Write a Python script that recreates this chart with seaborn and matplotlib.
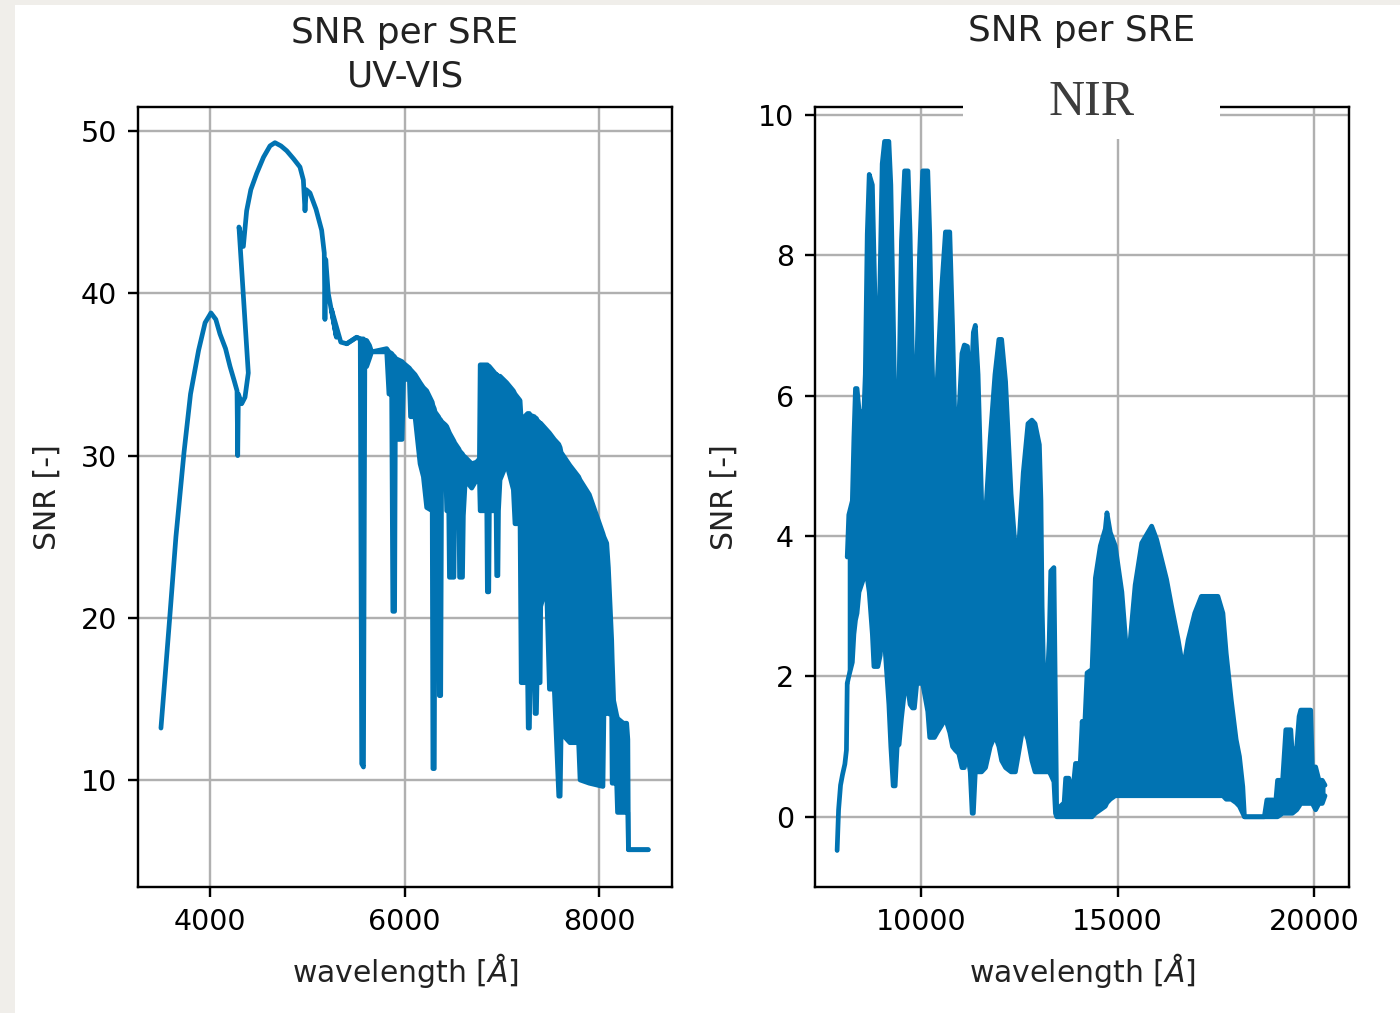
import matplotlib
matplotlib.use("Agg")
import matplotlib.pyplot as plt
from matplotlib.patches import Rectangle
import numpy as np
import pandas as pd
import seaborn as sns

# ---------------- UV-VIS arm ----------------
# single trace from the blue end up to 5406 A (orders overlap near 4300 and 5250 A)
uv_line_wl = [3496, 3540, 3586, 3650, 3733, 3800, 3883, 3950, 4010, 4060, 4103, 4160,
              4206, 4250, 4278, 4285, 4292, 4326, 4360, 4394, 4298, 4343, 4377, 4420,
              4480, 4550, 4617, 4668, 4730, 4789, 4860, 4925, 4960, 4977, 4990, 5028,
              5090, 5148, 5175, 5182, 5190, 5216, 5300, 5250, 5345, 5406]
uv_line_snr = [13.2, 16.5, 20.0, 25.0, 30.2, 33.8, 36.5, 38.2, 38.8, 38.4, 37.5, 36.6,
               35.5, 34.6, 34.0, 30.0, 33.8, 33.2, 33.6, 35.1, 44.1, 42.9, 45.1, 46.4,
               47.4, 48.4, 49.1, 49.3, 49.1, 48.8, 48.3, 47.8, 47.0, 45.1, 46.4, 46.2,
               45.2, 43.9, 42.5, 38.4, 42.1, 40.0, 37.3, 39.0, 37.0, 36.9]

# absorption-line region: upper (continuum) and lower envelope of the trace
uv_band_wl = [5406, 5508, 5545, 5560, 5578, 5592, 5611, 5640, 5662, 5817, 5840, 5868,
              5880, 5898, 5905, 5975, 5990, 6050, 6062, 6108, 6160, 6194, 6228, 6285,
              6292, 6306, 6314, 6350, 6358, 6372, 6382, 6420, 6434, 6455, 6462, 6508,
              6515, 6560, 6566, 6596, 6605, 6625, 6691, 6740, 6770, 6778, 6846, 6852,
              6866, 6872, 6942, 6948, 6960, 6966, 6982, 7050, 7119, 7136, 7188, 7200,
              7266, 7272, 7284, 7290, 7336, 7342, 7356, 7362, 7394, 7400, 7460, 7490,
              7540, 7586, 7600, 7610, 7700, 7790, 7805, 7900, 8040, 8050, 8079, 8096,
              8130, 8135, 8150, 8181, 8190, 8250, 8284, 8296, 8302, 8506]
uv_band_hi = [36.9, 37.3, 37.2, 37.2, 37.2, 37.1, 37.1, 36.8, 36.4, 36.6, 36.4, 36.3,
              36.2, 36.1, 36.0, 35.8, 35.7, 35.4, 35.3, 35.0, 34.5, 34.2, 34.0, 33.3,
              33.1, 32.9, 32.7, 32.4, 32.3, 32.2, 32.1, 31.9, 31.8, 31.5, 31.4, 30.9,
              30.8, 30.4, 30.3, 30.1, 30.0, 29.9, 29.5, 29.6, 29.8, 35.6, 35.6, 35.6,
              35.5, 35.5, 35.0, 35.0, 34.9, 34.9, 34.9, 34.5, 34.0, 33.8, 33.4, 32.2,
              32.6, 32.6, 32.6, 32.5, 32.4, 32.3, 32.3, 32.2, 32.0, 32.0, 31.6, 31.4,
              31.0, 30.7, 30.5, 30.2, 29.4, 28.7, 28.5, 27.6, 25.2, 25.0, 24.6, 23.1,
              18.6, 17.5, 14.9, 14.0, 13.8, 13.5, 13.5, 12.5, 5.7, 5.7]
uv_band_lo = [36.9, 37.3, 37.2, 11.0, 10.8, 36.0, 35.5, 36.0, 36.4, 36.4, 33.8, 33.8,
              20.4, 20.4, 31.0, 31.0, 34.7, 34.7, 32.4, 32.4, 29.5, 28.7, 26.8, 26.6,
              10.7, 10.7, 26.6, 26.6, 15.2, 15.2, 30.1, 30.1, 26.6, 26.6, 22.5, 22.5,
              26.6, 26.6, 22.5, 22.5, 26.3, 28.5, 28.0, 28.5, 28.6, 26.6, 26.6, 21.6,
              21.6, 26.6, 26.6, 22.6, 22.6, 26.6, 28.5, 29.5, 27.9, 25.8, 25.8, 16.0,
              16.0, 13.2, 13.2, 16.0, 16.0, 14.1, 14.1, 16.0, 16.0, 20.7, 22.0, 15.6,
              15.6, 9.0, 9.0, 12.9, 12.3, 12.3, 10.0, 9.8, 9.6, 14.1, 14.1, 14.1,
              14.0, 9.8, 9.8, 9.8, 8.0, 8.0, 8.0, 8.0, 5.7, 5.7]

# ---------------- NIR arm ----------------
nir_line_wl = [7863, 7900, 7950, 8000, 8060, 8100, 8120]
nir_line_snr = [-0.48, 0.1, 0.45, 0.6, 0.75, 0.95, 1.9]

nir_band_wl = [8120, 8160, 8250, 8290, 8330, 8370, 8420, 8540, 8580, 8630, 8680, 8760,
               8800, 8850, 8900, 8960, 9010, 9070, 9180, 9230, 9290, 9340, 9390, 9440,
               9500, 9580, 9670, 9720, 9780, 9830, 9890, 9960, 10040, 10170, 10220, 10280,
               10340, 10410, 10520, 10620, 10730, 10800, 10870, 10960, 11040, 11100, 11180, 11250,
               11300, 11330, 11380, 11450, 11540, 11640, 11760, 11880, 11980, 12050, 12150, 12290,
               12400, 12480, 12600, 12720, 12820, 12900, 13010, 13050, 13080, 13120, 13200, 13260,
               13300, 13380, 13420, 13450, 13640, 13680, 13760, 13850, 13930, 14050, 14100, 14140,
               14224, 14351, 14435, 14562, 14688, 14730, 14815, 14941, 15110, 15236, 15278, 15447,
               15615, 15868, 15995, 16248, 16374, 16543, 16669, 16796, 16964, 17133, 17554, 17681,
               17765, 17892, 18018, 18102, 18187, 18229, 18735, 18800, 18950, 19000, 19072, 19200,
               19282, 19409, 19450, 19560, 19620, 19662, 19915, 19957, 20041, 20126, 20210, 20280]
nir_band_hi = [3.7, 4.3, 4.5, 5.4, 6.1, 6.1, 5.8, 5.7, 6.3, 8.3, 9.15, 9.0,
               8.0, 6.8, 6.2, 7.8, 9.3, 9.62, 9.62, 9.0, 7.2, 5.6, 5.4, 6.2,
               8.2, 9.2, 9.2, 8.3, 6.5, 5.5, 6.4, 8.0, 9.2, 9.2, 8.3, 6.5,
               5.4, 6.2, 7.5, 8.33, 8.33, 7.0, 5.4, 5.7, 6.6, 6.72, 6.7, 6.0,
               6.5, 6.9, 7.0, 6.3, 4.5, 4.3, 5.4, 6.3, 6.8, 6.8, 6.2, 4.6,
               3.8, 3.8, 4.9, 5.6, 5.65, 5.6, 5.3, 4.5, 3.0, 2.0, 1.8, 2.5,
               3.5, 3.55, 1.5, 0.1, 0.2, 0.55, 0.55, 0.3, 0.76, 0.76, 1.36, 1.0,
               2.05, 2.1, 3.4, 3.86, 4.1, 4.33, 4.05, 3.86, 3.2, 2.3, 2.24, 3.3,
               3.9, 4.14, 3.95, 3.38, 3.0, 2.52, 2.1, 2.52, 2.9, 3.14, 3.14, 2.9,
               2.33, 1.67, 1.1, 0.86, 0.43, 0.0, 0.0, 0.24, 0.24, 0.05, 0.52, 0.52,
               1.24, 1.24, 0.86, 1.0, 1.43, 1.52, 1.52, 0.71, 0.71, 0.52, 0.52, 0.45]
nir_band_lo = [1.9, 2.0, 2.2, 2.6, 2.8, 2.9, 3.2, 3.4, 3.4, 3.4, 3.2, 2.6,
               2.14, 2.14, 2.14, 2.3, 2.7, 2.5, 1.6, 1.0, 0.44, 0.44, 1.0, 1.03,
               1.4, 1.8, 1.8, 1.6, 1.55, 1.55, 1.9, 1.9, 1.9, 1.5, 1.13, 1.13,
               1.13, 1.2, 1.3, 1.4, 1.2, 1.0, 0.95, 0.9, 0.7, 0.7, 0.9, 0.64,
               0.05, 0.05, 0.64, 0.64, 0.64, 0.7, 1.0, 1.16, 1.0, 0.8, 0.7, 0.64,
               0.64, 0.9, 1.3, 1.1, 0.8, 0.64, 0.64, 0.64, 0.64, 0.64, 0.64, 0.64,
               0.6, 0.5, 0.05, 0.0, 0.0, 0.0, 0.0, 0.0, 0.0, 0.0, 0.0, 0.0,
               0.0, 0.0, 0.05, 0.1, 0.15, 0.2, 0.25, 0.3, 0.3, 0.3, 0.3, 0.3,
               0.3, 0.3, 0.3, 0.3, 0.3, 0.3, 0.3, 0.3, 0.3, 0.3, 0.3, 0.3,
               0.25, 0.25, 0.2, 0.15, 0.05, 0.0, 0.0, 0.0, 0.0, 0.0, 0.0, 0.05,
               0.05, 0.05, 0.05, 0.1, 0.15, 0.19, 0.19, 0.19, 0.1, 0.19, 0.19, 0.3]

uv_xticks = [4000, 6000, 8000]
uv_yticks = [10, 20, 30, 40, 50]
nir_xticks = [10000, 15000, 20000]
nir_yticks = [0, 2, 4, 6, 8, 10]

# ---------------- style ----------------
S = 2.15  # scale relative to matplotlib defaults
sns.set_theme(style="ticks", palette="colorblind", rc={
    "axes.grid": True,
    "grid.color": "#b0b0b0",
    "grid.linewidth": 0.8 * S,
    "axes.edgecolor": "black",
    "axes.linewidth": 0.8 * S,
    "xtick.major.size": 3.5 * S,
    "ytick.major.size": 3.5 * S,
    "xtick.major.width": 0.8 * S,
    "ytick.major.width": 0.8 * S,
    "xtick.major.pad": 3.5 * S,
    "ytick.major.pad": 3.5 * S,
    "xtick.color": "black",
    "ytick.color": "black",
    "xtick.labelsize": 20.5,
    "ytick.labelsize": 20.5,
    "axes.labelsize": 21.5,
    "axes.titlesize": 25.8,
    "text.color": "#222222",
    "axes.labelcolor": "#222222",
})
plt.rcParams["font.family"] = ["DejaVu Sans"]
color = sns.color_palette("colorblind")[0]
LW = 3.4

fig = plt.figure(figsize=(14, 10.13), dpi=100)
fig.patch.set_facecolor("#f0eeea")
fig.add_artist(Rectangle((15 / 1400, 0), 1 - 15 / 1400, 1 - 5 / 1013,
                         transform=fig.transFigure, facecolor="white",
                         edgecolor="none", zorder=-10))

ax1 = fig.add_axes([138 / 1400, 1 - 887 / 1013, 534 / 1400, 780 / 1013])
ax2 = fig.add_axes([815 / 1400, 1 - 887 / 1013, 534 / 1400, 780 / 1013])


def draw_band(ax, wl, lo, hi):
    ax.fill_between(wl, lo, hi, color=color, lw=0, zorder=2)
    df = pd.DataFrame({"wl": wl, "lo": lo, "hi": hi})
    sns.lineplot(data=df, x="wl", y="lo", ax=ax, color=color, lw=LW,
                 sort=False, estimator=None, zorder=3)
    sns.lineplot(data=df, x="wl", y="hi", ax=ax, color=color, lw=LW,
                 sort=False, estimator=None, zorder=3)


# UV-VIS
sns.lineplot(x=uv_line_wl, y=uv_line_snr, ax=ax1, color=color, lw=LW,
             sort=False, estimator=None, zorder=3)
draw_band(ax1, uv_band_wl, uv_band_lo, uv_band_hi)
ax1.set_xlim(3260, 8750)
ax1.set_ylim(3.4, 51.5)
ax1.set_xticks(uv_xticks)
ax1.set_yticks(uv_yticks)
ax1.set_title("SNR per SRE\nUV-VIS", pad=6 * S + 2, linespacing=1.34)

# NIR
sns.lineplot(x=nir_line_wl, y=nir_line_snr, ax=ax2, color=color, lw=LW,
             sort=False, estimator=None, zorder=3)
draw_band(ax2, nir_band_wl, nir_band_lo, nir_band_hi)
ax2.set_xlim(7300, 20890)
ax2.set_ylim(-1.0, 10.11)
ax2.set_xticks(nir_xticks)
ax2.set_yticks(nir_yticks)
ax2.set_title("SNR per SRE", pad=47.5)

for ax in (ax1, ax2):
    ax.set_xlabel(r"wavelength [$\AA$]", labelpad=4 * S + 2.5)
    ax.set_ylabel("SNR [-]", labelpad=4 * S + 5)
    ax.grid(True, zorder=0)
    ax.set_axisbelow(True)
    for sp in ax.spines.values():
        sp.set_color("black")

# arm label panel above the NIR axes
fig.add_artist(Rectangle((963 / 1400, 1 - 139 / 1013), 257 / 1400, 84 / 1013,
                         transform=fig.transFigure, facecolor="white",
                         edgecolor="none", zorder=5))
fig.text(1091.5 / 1400, 1 - 115 / 1013, "NIR", family="Liberation Serif",
         fontsize=36, color="#3c3c3c", ha="center", va="baseline", zorder=6)

fig.savefig("out.png", dpi=100, facecolor=fig.get_facecolor())
